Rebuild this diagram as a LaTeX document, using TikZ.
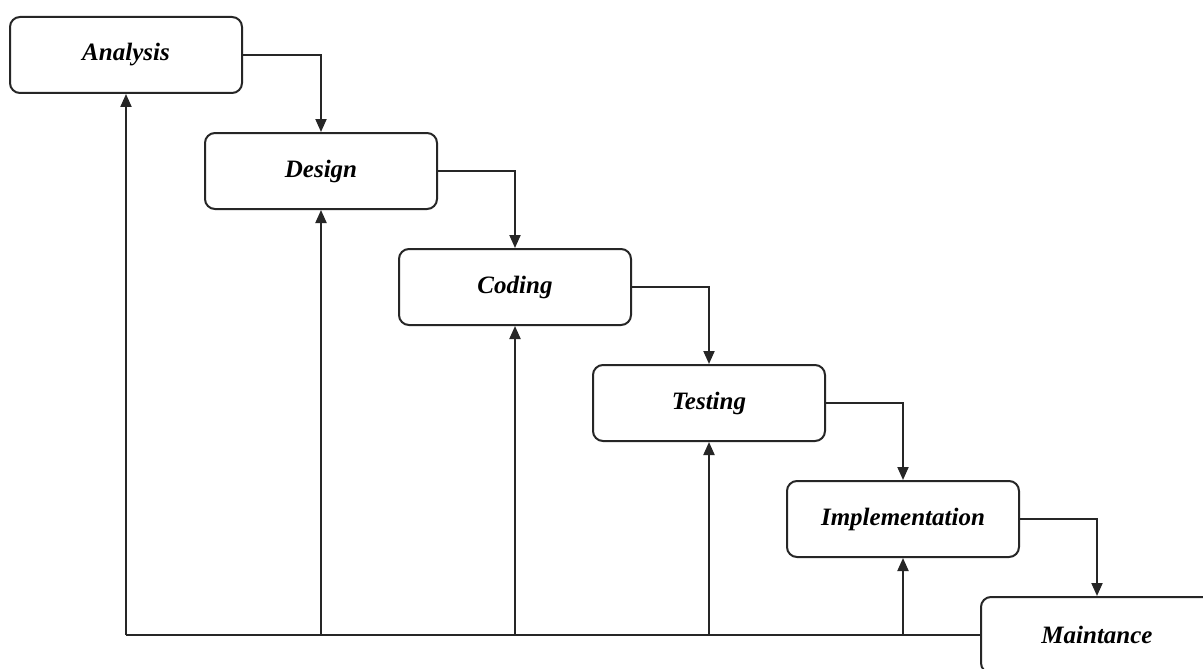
\documentclass[tikz,border=0pt]{standalone}
\usepackage{fontspec}
\setmainfont{Liberation Serif}
\usetikzlibrary{arrows.meta}
\begin{document}
\begin{tikzpicture}[x=1pt,y=-1pt,
  phase/.style={draw=black!85, line width=2pt, rounded corners=10pt, minimum width=232pt, minimum height=76pt, inner sep=0pt, fill=white, font=\fontsize{25}{30}\selectfont\bfseries\itshape},
  flow/.style={draw=black!85, line width=2pt, -{Triangle[length=13pt,width=11pt]}}]
\useasboundingbox (0,0) rectangle (1203,669);
\clip (0,0) rectangle (1203,669);
\fill[white] (0,0) rectangle (1203,669);
\node[phase] (an) at (126,55) {Analysis};
\node[phase] (de) at (321,171) {Design};
\node[phase] (co) at (515,287) {Coding};
\node[phase] (te) at (709,403) {Testing};
\node[phase] (im) at (903,519) {Implementation};
\node[phase] (ma) at (1097,635) {Maintance};
\draw[flow] (an.east) -| (de.north);
\draw[flow] (de.east) -| (co.north);
\draw[flow] (co.east) -| (te.north);
\draw[flow] (te.east) -| (im.north);
\draw[flow] (im.east) -| (ma.north);
\coordinate (b1) at (an.south |- ma.west);
\coordinate (b2) at (de.south |- ma.west);
\coordinate (b3) at (co.south |- ma.west);
\coordinate (b4) at (te.south |- ma.west);
\coordinate (b5) at (im.south |- ma.west);
\draw[draw=black!85, line width=2pt] (ma.west) -- (b1);
\draw[flow] (b1) -- (an.south);
\draw[flow] (b2) -- (de.south);
\draw[flow] (b3) -- (co.south);
\draw[flow] (b4) -- (te.south);
\draw[flow] (b5) -- (im.south);
\end{tikzpicture}
\end{document}
